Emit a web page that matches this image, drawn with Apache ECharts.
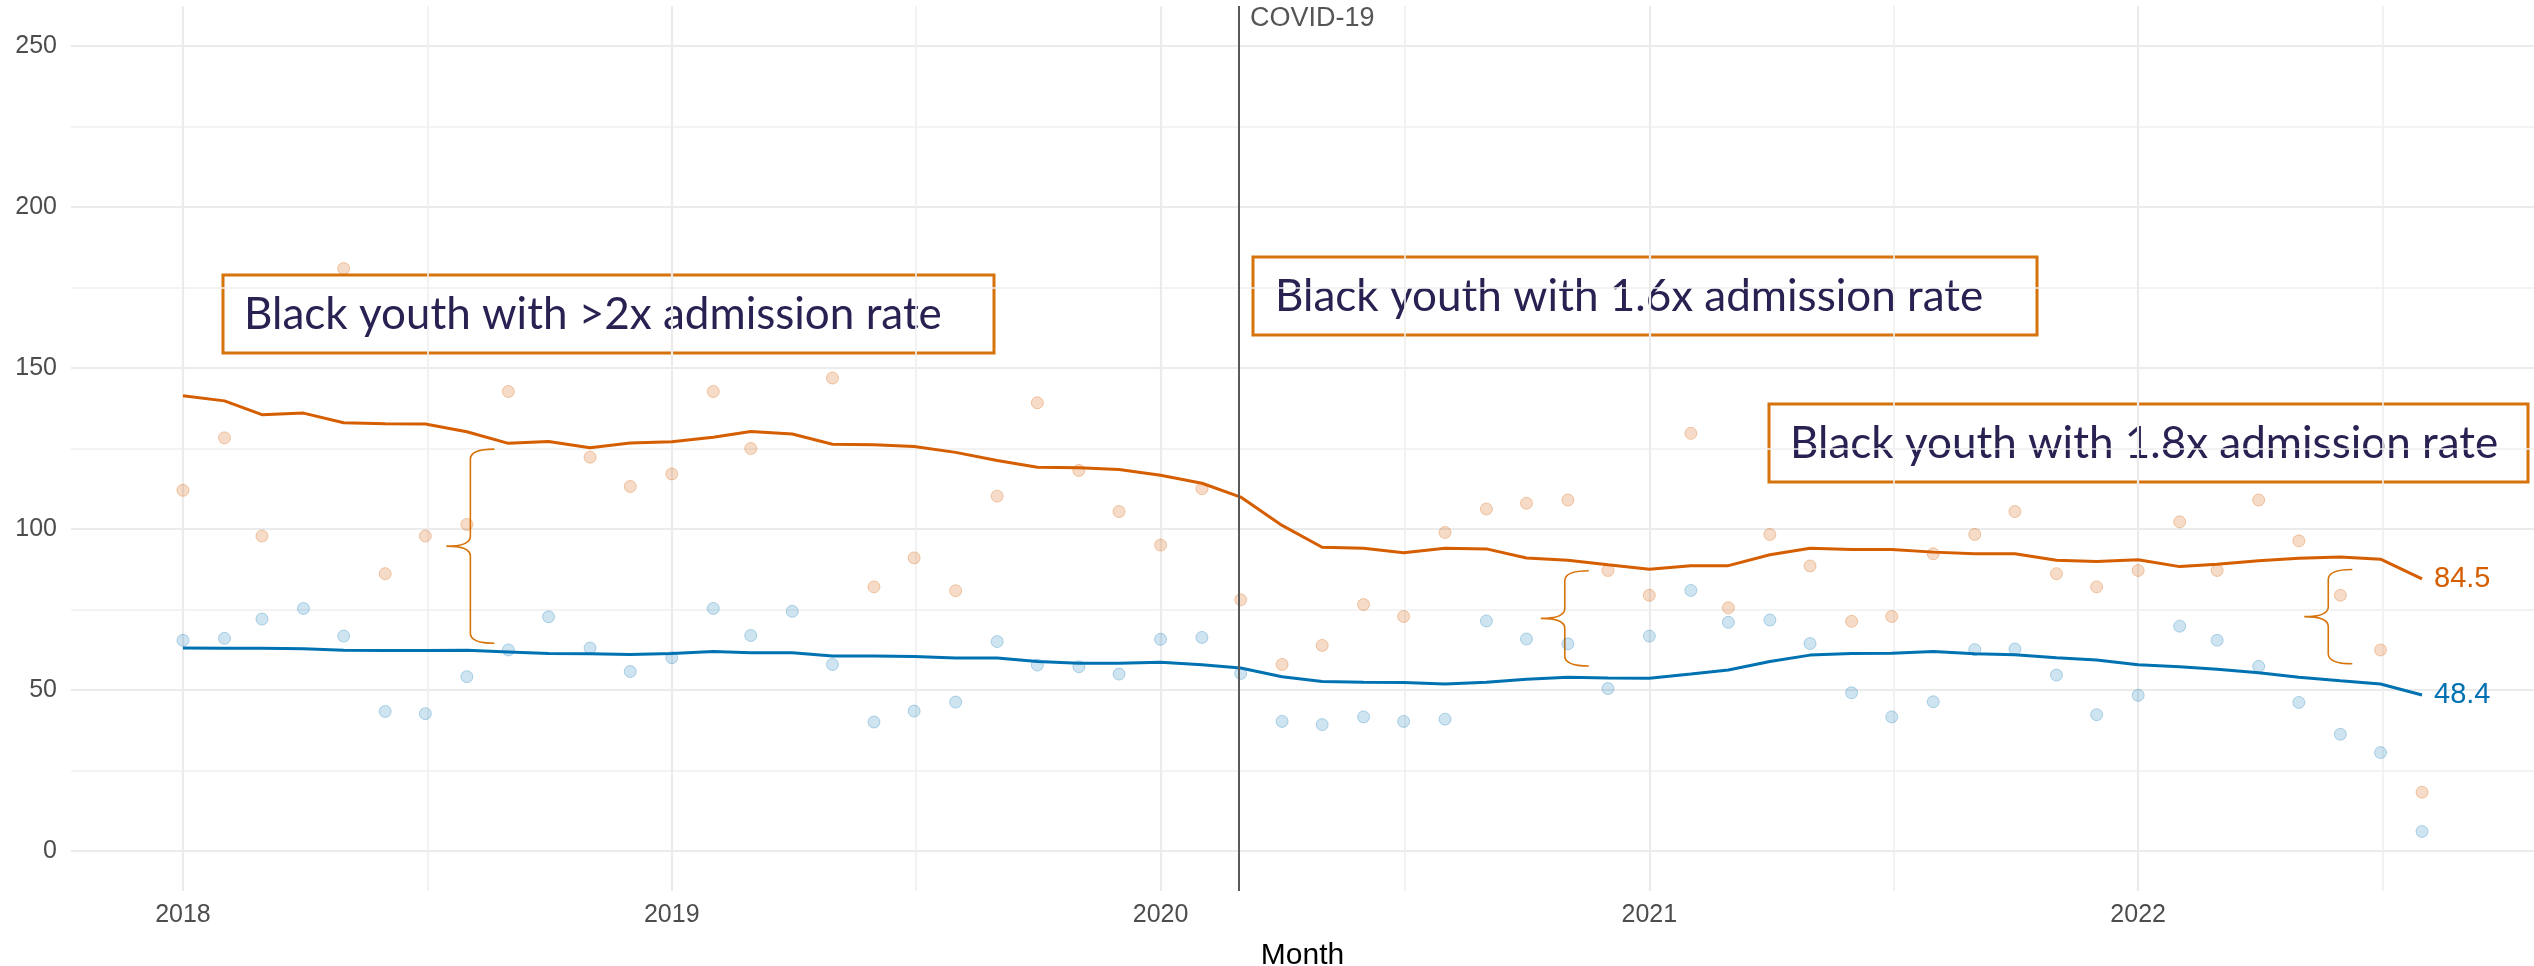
<!DOCTYPE html>
<html>
<head>
<meta charset="utf-8">
<title>Youth admissions by month</title>
<script src="https://cdn.jsdelivr.net/npm/echarts@6/dist/echarts.min.js"></script>
<style>
  html, body { margin: 0; padding: 0; background: #fff; }
  #main { width: 2534px; height: 966px; }
</style>
</head>
<body>
<div id="main"></div>
<script>
// monthly categories, Jan 2018 - Aug 2022
var months = [];
for (var yr = 2018; yr <= 2022; yr++) {
  for (var mo = 1; mo <= 12 && months.length < 56; mo++) {
    months.push(yr + '-' + (mo < 10 ? '0' : '') + mo);
  }
}

// points (null = not shown in the picture)
var orangePoints = [112.0, 128.3, 97.8, null, 180.9, 86.1, 97.8, 101.4, 142.7, null, 122.3, 113.2,
  117.1, 142.7, 125.0, null, 146.9, 82.0, 91.0, 80.8, 110.2, 139.2, 118.2, 105.4,
  95.0, 112.5, 78.0, 57.9, 63.8, 76.5, 72.8, 98.9, 106.2, 108.0, 109.0, 87.1,
  79.4, 129.7, 75.5, 98.3, 88.5, 71.3, 72.8, 92.3, 98.3, 105.4, 86.1, 82.0,
  87.1, 102.2, 87.1, 109.0, 96.3, 79.4, 62.4, 18.2];
var bluePoints = [65.4, 66.0, 72.0, 75.3, 66.7, 43.3, 42.6, 54.1, 62.4, 72.7, 63.0, 55.7,
  60.0, 75.3, 66.9, 74.4, 57.9, 40.0, 43.4, 46.2, 65.0, 57.7, 57.2, 54.9,
  65.7, 66.3, 55.1, 40.2, 39.2, 41.6, 40.2, 40.9, 71.4, 65.8, 64.3, 50.4,
  66.7, 80.9, 71.0, 71.7, 64.4, 49.1, 41.6, 46.3, 62.5, 62.7, 54.6, 42.3,
  48.3, 69.8, 65.4, 57.3, 46.1, 36.2, 30.5, 6.0];

// trend lines
var orangeTrend = [141.4, 139.8, 135.5, 136.0, 133.0, 132.7, 132.6, 130.2, 126.6, 127.2, 125.2, 126.7,
  127.1, 128.5, 130.3, 129.5, 126.3, 126.2, 125.6, 123.8, 121.3, 119.2, 119.0, 118.5,
  116.7, 114.2, 109.9, 101.1, 94.3, 94.0, 92.6, 94.0, 93.8, 91.0, 90.3, 88.9,
  87.5, 88.6, 88.6, 92.0, 94.0, 93.6, 93.6, 92.8, 92.3, 92.3, 90.3, 89.9,
  90.4, 88.3, 89.0, 90.1, 90.9, 91.3, 90.6, 84.5];
var blueTrend = [63.0, 62.9, 62.9, 62.8, 62.3, 62.2, 62.2, 62.3, 61.8, 61.3, 61.2, 61.0,
  61.3, 61.9, 61.5, 61.5, 60.5, 60.5, 60.4, 59.9, 59.9, 58.8, 58.3, 58.3,
  58.6, 57.8, 56.8, 54.1, 52.6, 52.4, 52.3, 51.8, 52.4, 53.3, 53.9, 53.7,
  53.6, 54.9, 56.2, 58.8, 60.8, 61.3, 61.4, 61.9, 61.2, 60.9, 60.0, 59.3,
  57.8, 57.2, 56.4, 55.3, 53.9, 52.8, 51.8, 48.4];

var covidMonth = '2020-03';

// braces: x position (decimal year), top and bottom values
var braceX = [2018.588, 2020.827, 2022.389];
var braceTop = [124.8, 87.0, 87.4];
var braceBottom = [64.5, 57.4, 58.1];

var yTicks = [0, 50, 100, 150, 200, 250];

function toYear(s) {
  var p = s.split('-'), y = +p[0], m = +p[1];
  var a = Date.UTC(y, 0, 1), b = Date.UTC(y + 1, 0, 1);
  return y + (Date.UTC(y, m - 1, 1) - a) / (b - a);
}
function pairs(vals) {
  var out = [];
  vals.forEach(function (v, i) { if (v != null) out.push([toYear(months[i]), v]); });
  return out;
}

var x0 = toYear(months[0]), x1 = toYear(months[months.length - 1]);
var xPad = (x1 - x0) * 0.05;
var yMin = yTicks[0], yMax = yTicks[yTicks.length - 1];
var yPad = (yMax - yMin) * 0.05;

var ORANGE = '#D55E00', BLUE = '#0072B2', BOX = '#D6730B', INK = '#2A2152';
var axisFont = 'Liberation Sans';

var chart = echarts.init(document.getElementById('main'));

var option = {
  animation: false,
  backgroundColor: '#fff',
  grid: { left: 71, right: 0, top: 6, bottom: 75, outerBoundsMode: 'none' },
  xAxis: {
    type: 'value',
    min: x0 - xPad, max: x1 + xPad,
    minInterval: 1, maxInterval: 1,
    axisLine: { show: false }, axisTick: { show: false },
    axisLabel: {
      showMinLabel: false, showMaxLabel: false,
      formatter: function (v) { return Math.abs(v - Math.round(v)) < 1e-6 ? String(Math.round(v)) : ''; },
      color: '#4d4d4d', fontSize: 25, fontFamily: axisFont, margin: 12
    },
    splitLine: { show: true, showMinLine: false, showMaxLine: false, lineStyle: { color: '#ebebeb', width: 2.2 } },
    minorTick: { show: false, splitNumber: 2 },
    minorSplitLine: { show: true, lineStyle: { color: '#efefef', width: 1.6 } },
    name: 'Month', nameLocation: 'middle', nameGap: 50,
    nameTextStyle: { color: '#000', fontSize: 30, fontFamily: axisFont }
  },
  yAxis: {
    type: 'value',
    min: yMin - yPad, max: yMax + yPad,
    minInterval: 50, maxInterval: 50,
    axisLine: { show: false }, axisTick: { show: false },
    axisLabel: {
      showMinLabel: false, showMaxLabel: false,
      formatter: function (v) { return yTicks.indexOf(Math.round(v)) >= 0 && Math.abs(v - Math.round(v)) < 1e-6 ? String(Math.round(v)) : ''; },
      color: '#4d4d4d', fontSize: 25, fontFamily: axisFont, margin: 14
    },
    splitLine: { show: true, showMinLine: false, showMaxLine: false, lineStyle: { color: '#ebebeb', width: 2.2 } },
    minorTick: { show: false, splitNumber: 2 },
    minorSplitLine: { show: true, lineStyle: { color: '#efefef', width: 1.6 } }
  },
  series: [
    {
      name: 'orange points', type: 'scatter', data: pairs(orangePoints),
      symbolSize: 12,
      itemStyle: { color: 'rgba(213,94,0,0.27)', borderColor: 'rgba(213,94,0,0.38)', borderWidth: 1 }
    },
    {
      name: 'blue points', type: 'scatter', data: pairs(bluePoints),
      symbolSize: 12,
      itemStyle: { color: 'rgba(0,114,178,0.24)', borderColor: 'rgba(0,114,178,0.34)', borderWidth: 1 }
    },
    {
      name: 'braces', type: 'custom',
      data: braceX.map(function (x, i) { return [x, braceTop[i], braceBottom[i]]; }),
      encode: { x: 0, y: [1, 2] },
      renderItem: function (params, api) {
        var t = api.coord([api.value(0), api.value(1)]);
        var b = api.coord([api.value(0), api.value(2)]);
        var cx = t[0], y1 = t[1], y2 = b[1], ym = (y1 + y2) / 2, w = 24, r = 10;
        var d = 'M' + (cx + w) + ' ' + y1 +
          ' Q' + cx + ' ' + y1 + ' ' + cx + ' ' + (y1 + r) +
          ' L' + cx + ' ' + (ym - r) +
          ' Q' + cx + ' ' + ym + ' ' + (cx - w) + ' ' + ym +
          ' Q' + cx + ' ' + ym + ' ' + cx + ' ' + (ym + r) +
          ' L' + cx + ' ' + (y2 - r) +
          ' Q' + cx + ' ' + y2 + ' ' + (cx + w) + ' ' + y2;
        return { type: 'path', shape: { pathData: d }, style: { fill: 'none', stroke: BOX, lineWidth: 1.6 } };
      },
      silent: true
    },
    {
      name: 'orange trend', type: 'line', data: pairs(orangeTrend),
      showSymbol: false, symbol: 'none',
      lineStyle: { color: ORANGE, width: 3 },
      endLabel: {
        show: true, distance: 12,
        formatter: function (p) { return p.value[1].toFixed(1); },
        color: ORANGE, fontSize: 29, fontFamily: axisFont
      },
      markLine: {
        silent: true, symbol: 'none',
        label: { show: false },
        lineStyle: { color: '#5a5a5a', width: 2, type: 'solid' },
        data: [{ xAxis: toYear(covidMonth) }]
      }
    },
    {
      name: 'blue trend', type: 'line', data: pairs(blueTrend),
      showSymbol: false, symbol: 'none',
      lineStyle: { color: BLUE, width: 3 },
      endLabel: {
        show: true, distance: 12,
        formatter: function (p) { return p.value[1].toFixed(1); },
        color: BLUE, fontSize: 29, fontFamily: axisFont
      }
    }
  ],
  graphic: [
    {
      type: 'group', x: 223, y: 275, z: 100,
      children: [
        { type: 'rect', shape: { x: 0, y: 0, width: 771, height: 78 }, style: { fill: '#fff', stroke: BOX, lineWidth: 3 } },
        { type: 'text', x: 21, y: 40, style: { text: 'Black youth with >2x admission rate', fontSize: 44, fontFamily: 'Lato', fill: INK, verticalAlign: 'middle' } }
      ]
    },
    {
      type: 'group', x: 1253, y: 257, z: 100,
      children: [
        { type: 'rect', shape: { x: 0, y: 0, width: 784, height: 78 }, style: { fill: '#fff', stroke: BOX, lineWidth: 3 } },
        { type: 'text', x: 22, y: 40, style: { text: 'Black youth with 1.6x admission rate', fontSize: 44, fontFamily: 'Lato', fill: INK, verticalAlign: 'middle' } }
      ]
    },
    {
      type: 'group', x: 1769, y: 404, z: 100,
      children: [
        { type: 'rect', shape: { x: 0, y: 0, width: 759, height: 78 }, style: { fill: '#fff', stroke: BOX, lineWidth: 3 } },
        { type: 'text', x: 21, y: 40, style: { text: 'Black youth with 1.8x admission rate', fontSize: 44, fontFamily: 'Lato', fill: INK, verticalAlign: 'middle' } }
      ]
    },
    {
      type: 'text', x: 1250, y: 19, z: 100,
      style: { text: 'COVID-19', fontSize: 27, fontFamily: axisFont, fill: '#555555', verticalAlign: 'middle' }
    }
  ]
};

chart.setOption(option);
</script>
</body>
</html>
